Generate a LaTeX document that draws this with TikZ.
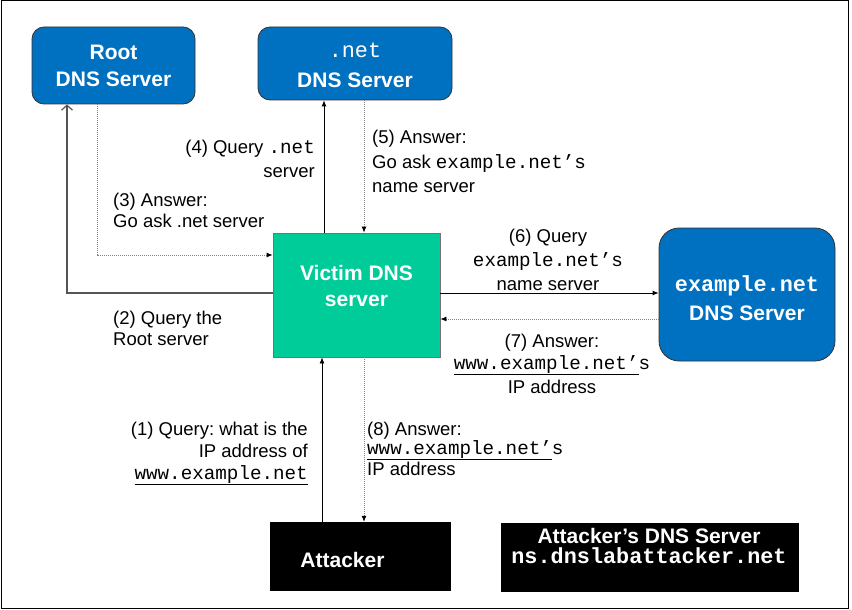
\documentclass[tikz,border=0pt]{standalone}
\usepackage{fontspec}
\setmainfont{Liberation Sans}
\setmonofont[Scale=1.04]{Liberation Mono}
\usetikzlibrary{arrows.meta,calc}
\definecolor{dnsblue}{RGB}{0,112,192}
\definecolor{victimgreen}{RGB}{0,204,153}
\definecolor{dotgray}{RGB}{130,130,130}
\definecolor{linegray}{RGB}{85,85,85}
\newcommand{\mt}[1]{{\ttfamily #1}}
\frenchspacing
\begin{document}
\begin{tikzpicture}[x=1pt,y=-1pt,
  bluebox/.style={draw=black!80, fill=dnsblue, line width=0.8pt, inner sep=0pt},
  blackbox/.style={fill=black, inner sep=0pt},
  boxtext/.style={text=white, font=\fontsize{21}{27}\selectfont\bfseries, align=center, inner sep=0pt, anchor=north},
  lbl/.style={font=\fontsize{18.5}{22}\selectfont, inner sep=0pt},
  solidarrow/.style={draw=black, line width=0.8pt, -{Latex[length=6pt,width=5pt]}},
  dotarrow/.style={draw=dotgray, line width=0.8pt, dash pattern=on 1pt off 1pt, -{Latex[length=6pt,width=5pt,fill=black,color=black]}},
  rootarrow/.style={draw=linegray, line width=1.4pt, -{Straight Barb[length=5pt,width=11pt,line width=1.2pt]}}
]
\useasboundingbox (0,0) rectangle (852,610);
\draw[line width=1pt] (1,1) rectangle (848,608);

% boxes
\node[bluebox, rounded corners=12pt, minimum width=163pt, minimum height=77pt] (root) at (113.5,65.5) {};
\node[boxtext] (roottext) at (113.5,40.1) {\strut Root\\DNS Server};

\node[bluebox, rounded corners=12pt, minimum width=194pt, minimum height=73pt] (net) at (355,63.5) {};
\node[boxtext] (nettext) at (355,38.1) {\strut{\mdseries\ttfamily .net}\\[3pt]DNS Server};

\node[draw=black!55, fill=victimgreen, line width=0.8pt, inner sep=0pt, minimum width=167pt, minimum height=124pt] (victim) at (356.5,295) {};
\node[boxtext] (victimtext) at (356.5,261.1) {\strut Victim DNS\\[-1pt]server};

\node[bluebox, rounded corners=20pt, minimum width=176pt, minimum height=133pt] (ex) at (747,294.5) {};
\node[boxtext] (extext) at (747,272.1) {\strut{\ttfamily example.net}\\[2pt]DNS Server};

\node[blackbox, minimum width=181pt, minimum height=69pt] (attacker) at (360.5,556.5) {};
\node[boxtext] (attackertext) at (342.5,548.1) {\strut Attacker};

\node[blackbox, minimum width=298pt, minimum height=69pt] (attdns) at (650,557.5) {};
\node[boxtext] (attdnstext) at (649,524.1) {\strut Attacker’s DNS Server\\[-7pt]{\ttfamily ns.dnslabattacker.net}};

% helper coordinates
\coordinate (c2) at (67,293);
\coordinate (c3) at (97,255);
\coordinate (c4) at (324,200);
\coordinate (c5) at (364,200);
\coordinate (c7) at (700,319);
\coordinate (c1) at (322,450);

% connectors
\draw[rootarrow] (victim.west |- c2) -- (c2) -- (root.south -| c2);
\draw[dotarrow] (root.south -| c3) |- (victim.west |- c3);
\draw[solidarrow] (victim.north -| c4) -- (net.south -| c4);
\draw[dotarrow] (net.south -| c5) -- (victim.north -| c5);
\draw[solidarrow] (victim.east |- c2) -- (ex.west |- c2);
\draw[dotarrow] (ex.west |- c7) -- (victim.east |- c7);
\draw[solidarrow] (attacker.north -| c1) -- (victim.south -| c1);
\draw[dotarrow] (victim.south -| c5) -- (attacker.north -| c5);

% labels
\node[lbl, anchor=north east, align=right] (l4) at (315,137.6) {\strut(4) Query \mt{.net}\\[2.5pt]server};
\node[lbl, anchor=north west, align=left] (l5) at (372,128) {\strut(5) Answer:\\[2.5pt]Go ask \mt{example.net’s}\\[2.5pt]name server};
\node[lbl, anchor=north west, align=left] (l3) at (113,190.6) {\strut(3) Answer:\\[-1pt]Go ask .net server};
\node[lbl, anchor=north west, align=left] (l2) at (113,308.6) {\strut(2) Query the\\[-1pt]Root server};
\node[lbl, anchor=north, align=center] (l6) at (548,226.6) {\strut(6) Query\\[2pt]\mt{example.net’s}\\[2pt]name server};
\node[lbl, anchor=north, align=center] (l7) at (552,331.6) {\strut(7) Answer:\\\underline{\mt{www.example.net’}}\mt{s}\\[2pt]IP address};
\node[lbl, anchor=north east, align=right] (l1) at (308,419.6) {\strut(1) Query: what is the\\IP address of\\\underline{\mt{www.example.net}}};
\node[lbl, anchor=north west, align=left] (l8) at (367,419.6) {\strut(8) Answer:\\[-3pt]\underline{\mt{www.example.net’}}\mt{s}\\[-1pt]IP address};
\end{tikzpicture}
\end{document}
